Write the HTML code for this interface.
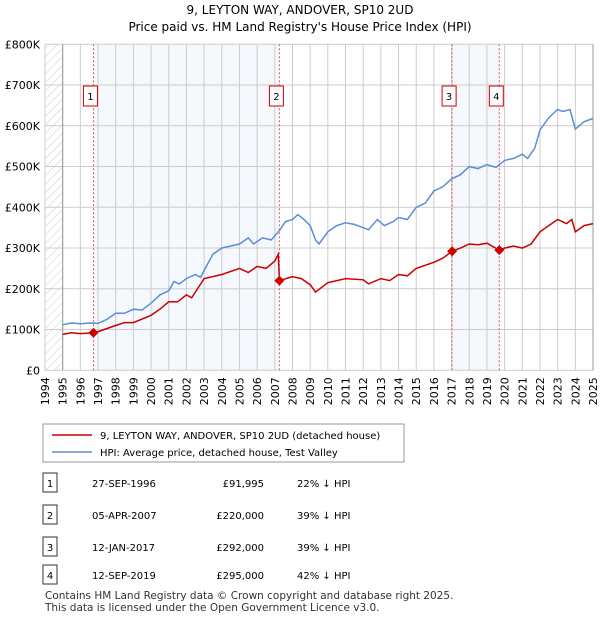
<!DOCTYPE html>
<html><head><meta charset="utf-8"><style>
body{margin:0;background:#fff;font-family:"Liberation Sans","DejaVu Sans",sans-serif;}
svg text{font-family:"DejaVu Sans","Liberation Sans",sans-serif;}
</style></head><body>
<svg id="chart" width="600" height="620" xmlns="http://www.w3.org/2000/svg">
<defs><pattern id="hatch" width="6" height="6" patternUnits="userSpaceOnUse" patternTransform="rotate(45)"><line x1="0" y1="0" x2="0" y2="6" stroke="#ccc" stroke-width="1"/></pattern></defs>
<text x="300" y="14" text-anchor="middle" font-size="12">9, LEYTON WAY, ANDOVER, SP10 2UD</text>
<text x="300" y="31" text-anchor="middle" font-size="12">Price paid vs. HM Land Registry's House Price Index (HPI)</text>
<g id="plot"></g>
<g>
<rect x="43" y="424" width="361" height="38" fill="#fff" stroke="#999"/>
<line x1="52" y1="435" x2="92" y2="435" stroke="#cc0000" stroke-width="1.5"/>
<text x="100" y="439" font-size="10">9, LEYTON WAY, ANDOVER, SP10 2UD (detached house)</text>
<line x1="52" y1="452" x2="92" y2="452" stroke="#5b8ed6" stroke-width="1.5"/>
<text x="100" y="456" font-size="10">HPI: Average price, detached house, Test Valley</text>
</g>
<g id="table"></g>
<text x="45" y="599" font-size="10.5" fill="#333">Contains HM Land Registry data © Crown copyright and database right 2025.</text>
<text x="45" y="611" font-size="10.5" fill="#333">This data is licensed under the Open Government Licence v3.0.</text>
</svg>
<script>
const hpiYears=[1995,1995.5,1996,1996.5,1997,1997.5,1998,1998.5,1999,1999.5,2000,2000.5,2001,2001.3,2001.6,2002,2002.5,2002.8,2003,2003.5,2004,2004.5,2005,2005.5,2005.8,2006.3,2006.8,2007.3,2007.6,2008,2008.3,2008.6,2009,2009.3,2009.5,2010,2010.5,2011,2011.5,2012,2012.3,2012.8,2013.2,2013.7,2014,2014.5,2015,2015.5,2016,2016.5,2017,2017.5,2018,2018.5,2019,2019.5,2020,2020.5,2021,2021.3,2021.7,2022,2022.5,2023,2023.3,2023.7,2024,2024.5,2025];
const hpiValues=[112,116,114,116,115,125,140,140,150,148,165,185,195,218,212,225,235,228,245,285,300,305,310,325,310,325,320,345,365,370,382,372,355,320,310,340,355,362,358,350,345,370,355,365,375,370,400,410,440,450,470,480,500,495,505,498,515,520,530,520,545,590,620,640,635,640,592,610,618];
const paidYears=[1995,1995.5,1996,1996.75,1997,1998,1998.5,1999,2000,2000.5,2001,2001.5,2002,2002.3,2003,2004,2005,2005.5,2006,2006.5,2007,2007.2,2007.26,2008,2008.5,2009,2009.3,2010,2011,2012,2012.3,2013,2013.5,2014,2014.5,2015,2016,2016.5,2017.03,2017.5,2018,2018.5,2019,2019.7,2020,2020.5,2021,2021.5,2022,2022.5,2023,2023.5,2023.8,2024,2024.5,2025];
const paidValues=[88,92,90,92,95,110,117,117,135,150,168,168,185,178,225,235,250,240,255,250,268,285,220,230,225,210,192,215,225,222,212,225,220,235,232,250,265,275,292,300,310,308,312,295,300,305,300,310,340,355,370,360,370,340,355,360];
const saleYears=[1996.74,2007.26,2017.03,2019.7];
const salePrices=[91995,220000,292000,295000];
const saleLabels=["1","2","3","4"];
const saleDates=["27-SEP-1996","05-APR-2007","12-JAN-2017","12-SEP-2019"];
const salePriceText=["£91,995","£220,000","£292,000","£295,000"];
const saleHpiText=["22% ↓ HPI","39% ↓ HPI","39% ↓ HPI","42% ↓ HPI"];
const yTicks=[0,100,200,300,400,500,600,700,800];
const yTickLabels=["£0","£100K","£200K","£300K","£400K","£500K","£600K","£700K","£800K"];
const xTicks=[1994,1995,1996,1997,1998,1999,2000,2001,2002,2003,2004,2005,2006,2007,2008,2009,2010,2011,2012,2013,2014,2015,2016,2017,2018,2019,2020,2021,2022,2023,2024,2025];

const NS="http://www.w3.org/2000/svg";
const X0=45,X1=593,Y0=370.3,Y1=44.3;
const x=y=>X0+(y-1994)/31*(X1-X0);
const yS=v=>Y0-v/800*(Y0-Y1);
const plot=document.getElementById('plot');
function mk(tag,attrs,parent){const e=document.createElementNS(NS,tag);for(const k in attrs)e.setAttribute(k,attrs[k]);(parent||plot).appendChild(e);return e;}
let e=mk('rect',{x:X0,y:Y1,width:x(1995)-X0,height:Y0-Y1,fill:'url(#hatch)'});


e=mk('rect',{x:x(saleYears[0]),y:Y1,width:x(saleYears[1])-x(saleYears[0]),height:Y0-Y1,fill:'#eef3fc',opacity:0.6});


e=mk('rect',{x:x(saleYears[2]),y:Y1,width:x(saleYears[3])-x(saleYears[2]),height:Y0-Y1,fill:'#eef3fc',opacity:0.6});


xTicks.forEach(t=>{const l=mk('line',{x1:x(t),x2:x(t),y1:Y1,y2:Y0,stroke:'#ccc','stroke-width':1});


const tx=mk('text',{x:0,y:0,'font-size':11,'text-anchor':'end',transform:`translate(${x(t)+4},${Y0+7}) rotate(-90)`});tx.textContent=t;

});
yTicks.forEach((t,i)=>{const l=mk('line',{x1:X0,x2:X1,y1:yS(t),y2:yS(t),stroke:'#ccc','stroke-width':1});


const tx=mk('text',{x:40,y:yS(t)+4,'font-size':11,'text-anchor':'end'});tx.textContent=yTickLabels[i];

});
e=mk('line',{x1:x(1995),x2:x(1995),y1:Y1,y2:Y0,stroke:'#999'});


e=mk('line',{x1:X1,x2:X1,y1:Y1,y2:Y0,stroke:'#999'});


saleYears.forEach((s,i)=>{const l=mk('line',{x1:x(s),x2:x(s),y1:Y1,y2:Y0,stroke:'#e55','stroke-width':1,'stroke-dasharray':'2,2'});


const g=mk('g',{});


mk('rect',{x:x(s)-10,y:86,width:14,height:20,fill:'#fff',stroke:'#c00'},g);
const t=mk('text',{x:x(s)-3,y:100,'font-size':10,'text-anchor':'middle'},g);t.textContent=saleLabels[i];});
function line(xs,vs,col,name){const d=xs.map((t,i)=>(i?'L':'M')+x(t).toFixed(1)+','+yS(vs[i]).toFixed(1)).join('');
const p=mk('path',{d:d,fill:'none',stroke:col,'stroke-width':1.5});

}
line(hpiYears,hpiValues,'#5b8ed6','hpi-line');
line(paidYears,paidValues,'#cc0000','price-paid-line');
saleYears.forEach((s,i)=>{const cx=x(s),cy=yS(salePrices[i]/1000);
const d=mk('path',{d:`M${cx},${cy-5}L${cx+5},${cy}L${cx},${cy+5}L${cx-5},${cy}Z`,fill:'#cc0000'});

});
const tb=document.getElementById('table');
const rowY=[483,515,547,575];
saleLabels.forEach((l,i)=>{const y=rowY[i];
mk('rect',{x:43,y:y-10,width:14,height:19,fill:'#fff',stroke:'#333'},tb);
const a=mk('text',{x:50,y:y+4,'font-size':10,'text-anchor':'middle'},tb);a.textContent=l;
const b=mk('text',{x:92,y:y+4,'font-size':10},tb);b.textContent=saleDates[i];
const c=mk('text',{x:264,y:y+4,'font-size':10,'text-anchor':'end'},tb);c.textContent=salePriceText[i];
const d=mk('text',{x:297,y:y+4,'font-size':10},tb);d.textContent=saleHpiText[i];});
</script>
</body></html>
